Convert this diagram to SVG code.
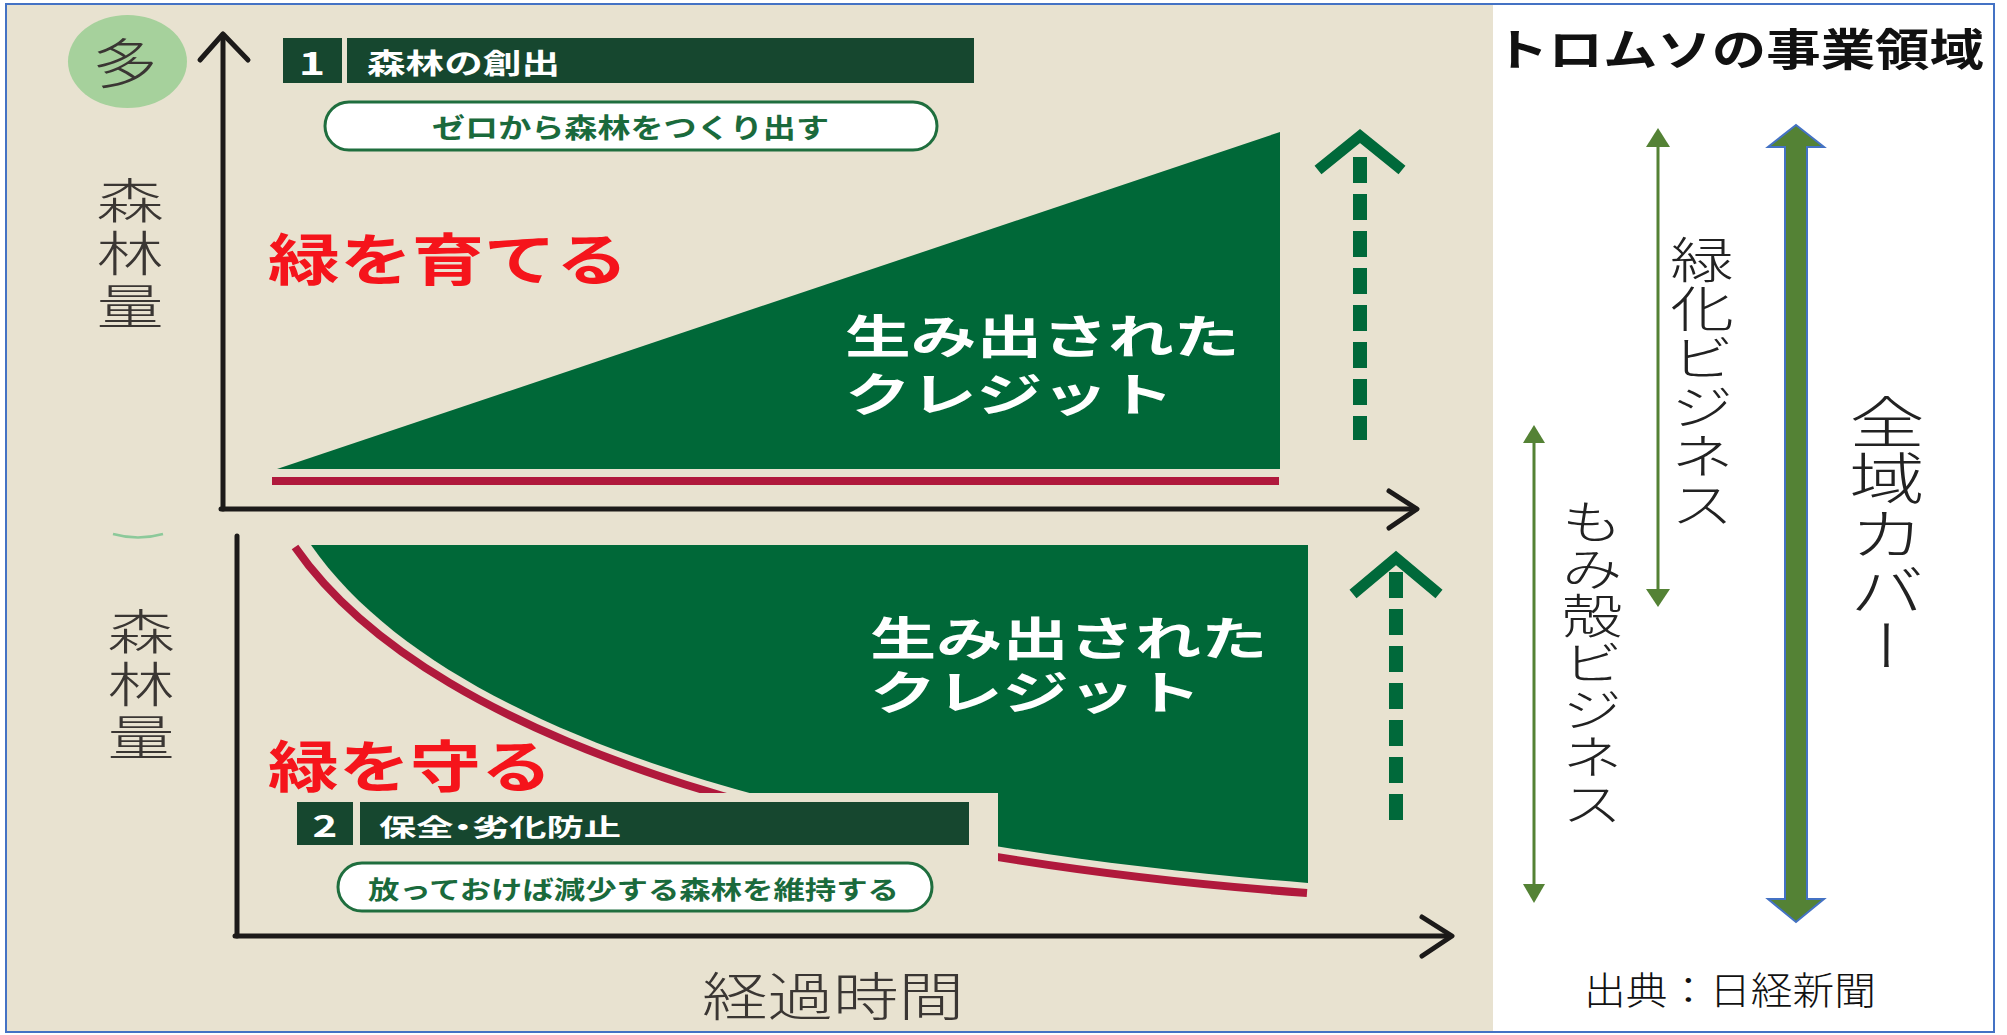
<svg xmlns="http://www.w3.org/2000/svg" width="2007" height="1035" viewBox="0 0 2007 1035">
<style>
.jp{font-family:"Noto Sans CJK JP","Noto Sans CJK SC",sans-serif;}
.b{font-weight:700;}
.l{font-weight:300;}
.c{dominant-baseline:central;}
.ax{fill:none;stroke:#1c1a19;stroke-width:5;stroke-linecap:round;stroke-linejoin:round;}
.bar{fill:#16472f;}
.pill{fill:#ffffff;stroke:#1f6e3e;stroke-width:3;}
.pt{fill:#1a6a3c;}
.wt{fill:#ffffff;}
.red{fill:#f5141b;}
.gray{fill:#3a3633;}
.dash{fill:none;stroke:#00693a;stroke-width:14;stroke-dasharray:26 11;}
.chev{fill:none;stroke:#00693a;stroke-width:11;stroke-linejoin:miter;}
.gl{stroke:#548235;stroke-width:3;fill:none;}
.gh{fill:#548235;}
.vt{writing-mode:vertical-rl;}
</style>
<rect x="0" y="0" width="2007" height="1035" fill="#ffffff"/>
<rect id="bg" x="6" y="4" width="1487" height="1028" fill="#e8e2d0"/>
<rect id="panel" x="1493" y="4" width="1501" height="1028" fill="#ffffff"/>

<g id="chart-top">
  <ellipse cx="127.5" cy="61.5" rx="59.5" ry="46.5" fill="#a6d19c"/>
  <text class="jp l c gray" font-size="54" text-anchor="middle" transform="translate(125,60) scale(1.2,1)">多</text>
  <text class="jp l vt gray" font-size="48" letter-spacing="5" transform="translate(130,176) scale(1.4,1)" x="0" y="0">森林量</text>
  <polygon points="277,469 1280,469 1280,132" fill="#006838"/>
  <rect x="272" y="477" width="1007" height="8" fill="#b0193c"/>
  <g id="label1">
    <rect class="bar" x="283" y="38" width="59" height="45"/>
    <rect class="bar" x="347" y="38" width="627" height="45"/>
    <text class="jp b c wt" font-size="32" text-anchor="middle" transform="translate(312,61) scale(1.4,1)">1</text>
    <text class="jp b c wt" font-size="28" x="367" y="62" textLength="193" lengthAdjust="spacingAndGlyphs">森林の創出</text>
    <rect class="pill" x="325" y="102" width="612" height="48" rx="24"/>
    <text class="jp b c pt" font-size="27" x="432" y="126" textLength="397" lengthAdjust="spacingAndGlyphs">ゼロから森林をつくり出す</text>
  </g>
  <text class="jp b c red" font-size="56" x="268" y="255" textLength="360" lengthAdjust="spacingAndGlyphs">緑を育てる</text>
  <text class="jp b c wt" font-size="46" transform="translate(845,0) scale(1.43,1)"><tspan x="0" y="333">生み出された</tspan><tspan x="0" y="391">クレジット</tspan></text>
</g>

<g id="chart-bottom">
  <path d="M113,534 Q138,541 163,534" fill="none" stroke="#8cc99a" stroke-width="2.5"/>
  <text class="jp l vt gray" font-size="48" letter-spacing="5" transform="translate(141,607) scale(1.4,1)" x="0" y="0">森林量</text>
  <path d="M311,545 H1308 V883 C860,848 452,748 311,545 Z" fill="#006838"/>
  <path d="M295,547 C437,752 856,860 1307,893" fill="none" stroke="#b0193c" stroke-width="8"/>
  <rect x="280" y="793" width="718" height="135" fill="#e8e2d0"/>
  <text class="jp b c wt" font-size="46" transform="translate(870,0) scale(1.44,1)"><tspan x="0" y="635">生み出された</tspan><tspan x="0" y="689">クレジット</tspan></text>
  <text class="jp b c red" font-size="56" x="268" y="762" textLength="284" lengthAdjust="spacingAndGlyphs">緑を守る</text>
  <g id="label2">
    <rect class="bar" x="297" y="802" width="56" height="43"/>
    <rect class="bar" x="360" y="802" width="609" height="43"/>
    <text class="jp b c wt" font-size="30" text-anchor="middle" transform="translate(325,824) scale(1.4,1)">2</text>
    <text class="jp b c wt" font-size="24" x="379" y="825" textLength="242" lengthAdjust="spacingAndGlyphs" style="font-feature-settings:'palt'">保全・劣化防止</text>
    <rect class="pill" x="338" y="863" width="594" height="48" rx="24"/>
    <text class="jp b c pt" font-size="25" x="368" y="888" textLength="531" lengthAdjust="spacingAndGlyphs">放っておけば減少する森林を維持する</text>
  </g>
  <text class="jp l c gray" font-size="52" x="702" y="993" textLength="262" lengthAdjust="spacingAndGlyphs">経過時間</text>
</g>

<g id="connectors">
  <line class="ax" x1="223" y1="36" x2="223" y2="509"/>
  <polyline class="ax" points="200,60 223,34 248,60"/>
  <line class="ax" x1="221" y1="509" x2="1416" y2="509"/>
  <polyline class="ax" points="1389,491 1417,509 1389,528"/>
  <line class="ax" x1="237" y1="536" x2="237" y2="936"/>
  <line class="ax" x1="235" y1="936" x2="1450" y2="936"/>
  <polyline class="ax" points="1422,917 1452,936 1422,956"/>
  <line class="dash" x1="1360" y1="157" x2="1360" y2="440"/>
  <polyline class="chev" points="1318,170 1360,136 1402,170"/>
  <line class="dash" x1="1396" y1="572" x2="1396" y2="820"/>
  <polyline class="chev" points="1353,594 1396,558 1439,594"/>
  <line class="gl" x1="1658" y1="145" x2="1658" y2="592"/>
  <polygon class="gh" points="1658,128 1646,147 1670,147"/>
  <polygon class="gh" points="1658,607 1646,589 1670,589"/>
  <line class="gl" x1="1534" y1="441" x2="1534" y2="886"/>
  <polygon class="gh" points="1534,425 1523,443 1545,443"/>
  <polygon class="gh" points="1534,903 1523,884 1545,884"/>
  <polygon points="1796,125 1824,147 1807,147 1807,899 1824,899 1796,922 1768,899 1785,899 1785,147 1768,147" fill="#548235" stroke="#4472c4" stroke-width="2"/>
</g>

<g id="legend">
  <text class="jp b c" font-size="44" fill="#111" x="1494" y="47" textLength="490" lengthAdjust="spacingAndGlyphs">トロムソの事業領域</text>
  <text class="jp l vt" font-size="49" fill="#222" transform="translate(1702,235) scale(1.3,1)" x="0" y="0">緑化ビジネス</text>
  <text class="jp l vt" font-size="47" fill="#222" transform="translate(1592,498) scale(1.3,1)" x="0" y="0">もみ殻ビジネス</text>
  <text class="jp l vt" font-size="56" fill="#222" transform="translate(1887,394) scale(1.35,1)" x="0" y="0">全域カバー</text>
  <text class="jp l c" font-size="38" fill="#111" x="1584" y="987" textLength="292" lengthAdjust="spacingAndGlyphs">出典：日経新聞</text>
</g>

<rect x="6" y="4" width="1988" height="1028" fill="none" stroke="#4472c4" stroke-width="2"/>
</svg>
